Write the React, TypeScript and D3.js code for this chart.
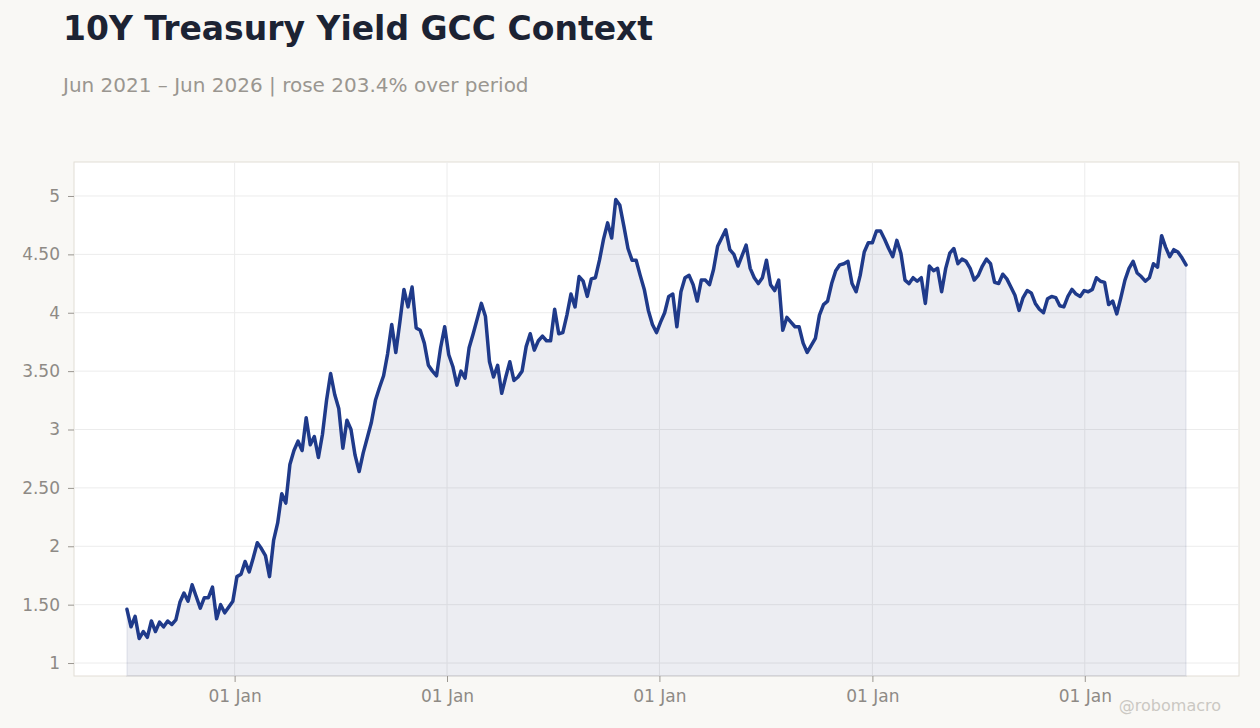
import React, { useEffect, useRef } from "react";
import * as d3 from "d3";

// weekly observations, first one on 30 Jun 2021
const startDate = "2021-06-30";
const stepDays = 7;

const yields: number[] = [
  1.46, 1.31, 1.40, 1.21, 1.27, 1.22, 1.36, 1.27, 1.35, 1.31,
  1.36, 1.33, 1.37, 1.52, 1.60, 1.53, 1.67, 1.57, 1.47, 1.56,
  1.56, 1.65, 1.38, 1.50, 1.43, 1.48, 1.53, 1.74, 1.76, 1.87,
  1.78, 1.90, 2.03, 1.98, 1.92, 1.74, 2.05, 2.20, 2.45, 2.37,
  2.70, 2.82, 2.90, 2.82, 3.10, 2.87, 2.94, 2.76, 2.96, 3.25,
  3.48, 3.30, 3.18, 2.84, 3.08, 3.00, 2.78, 2.64, 2.80, 2.93,
  3.06, 3.25, 3.36, 3.46, 3.65, 3.90, 3.66, 3.92, 4.20, 4.05,
  4.22, 3.87, 3.85, 3.74, 3.55, 3.50, 3.46, 3.70, 3.88, 3.64,
  3.54, 3.38, 3.50, 3.44, 3.70, 3.82, 3.95, 4.08, 3.97, 3.58,
  3.45, 3.55, 3.31, 3.45, 3.58, 3.42, 3.45, 3.50, 3.71, 3.82,
  3.68, 3.76, 3.80, 3.76, 3.76, 4.03, 3.82, 3.83, 3.98, 4.16,
  4.05, 4.31, 4.27, 4.14, 4.29, 4.30, 4.45, 4.63, 4.77, 4.64,
  4.97, 4.92, 4.74, 4.55, 4.45, 4.45, 4.32, 4.20, 4.02, 3.90,
  3.83, 3.92, 4.00, 4.14, 4.16, 3.88, 4.18, 4.30, 4.32, 4.24,
  4.10, 4.28, 4.28, 4.24, 4.37, 4.57, 4.64, 4.71, 4.54, 4.50,
  4.40, 4.49, 4.58, 4.38, 4.30, 4.25, 4.30, 4.45, 4.24, 4.19,
  4.28, 3.85, 3.96, 3.92, 3.88, 3.88, 3.74, 3.66, 3.72, 3.78,
  3.98, 4.07, 4.10, 4.25, 4.36, 4.41, 4.42, 4.44, 4.25, 4.18,
  4.32, 4.52, 4.60, 4.60, 4.70, 4.70, 4.63, 4.55, 4.48, 4.62,
  4.51, 4.28, 4.25, 4.30, 4.27, 4.30, 4.08, 4.40, 4.36, 4.38,
  4.18, 4.38, 4.51, 4.55, 4.42, 4.46, 4.44, 4.38, 4.28, 4.32,
  4.40, 4.46, 4.42, 4.26, 4.25, 4.33, 4.29, 4.22, 4.15, 4.02,
  4.13, 4.19, 4.17, 4.08, 4.03, 4.00, 4.12, 4.14, 4.13, 4.06,
  4.05, 4.14, 4.20, 4.16, 4.14, 4.19, 4.18, 4.20, 4.30, 4.27,
  4.26, 4.07, 4.10, 3.99, 4.13, 4.28, 4.38, 4.44, 4.34, 4.31,
  4.27, 4.30, 4.42, 4.39, 4.66, 4.56, 4.48, 4.54, 4.52, 4.47,
  4.41,
];

const yTicks = [1, 1.5, 2, 2.5, 3, 3.5, 4, 4.5, 5];
const xTickDates = ["2022-01-01", "2023-01-01", "2024-01-01", "2025-01-01", "2026-01-01"];

const title = "10Y Treasury Yield GCC Context";
const subtitle = "Jun 2021 – Jun 2026 | rose 203.4% over period";
const credit = "@robomacro";

const W = 1260,
  H = 728;
const margin = { top: 162, right: 21, bottom: 52, left: 74 };
const FONT = "'DejaVu Sans', Verdana, sans-serif";

interface IPoint {
  date: Date;
  value: number;
}

export default function App(): JSX.Element {
  const svgRef = useRef<SVGSVGElement>(null);

  useEffect(() => {
    if (!svgRef.current) return;
    const root = d3.select(svgRef.current);
    root.selectAll("*").remove();

    const parse = d3.utcParse("%Y-%m-%d");
    const t0 = parse(startDate) as Date;
    const data: IPoint[] = yields.map((v, i) => ({
      date: d3.utcDay.offset(t0, i * stepDays),
      value: v,
    }));

    const innerW = W - margin.left - margin.right;
    const innerH = H - margin.top - margin.bottom;

    const [d0, d1] = d3.extent(data, (d) => d.date) as [Date, Date];
    const pad = (+d1 - +d0) * 0.05;
    const x = d3
      .scaleUtc()
      .domain([new Date(+d0 - pad), new Date(+d1 + pad)])
      .range([0, innerW]);
    const y = d3.scaleLinear().domain([0.889, 5.291]).range([innerH, 0]);

    root
      .append("rect")
      .attr("width", W)
      .attr("height", H)
      .attr("fill", "#f9f8f5");

    root
      .append("text")
      .attr("x", 63)
      .attr("y", 40)
      .attr("font-family", FONT)
      .attr("font-weight", "bold")
      .attr("font-size", 33)
      .attr("fill", "#1c2333")
      .text(title);

    root
      .append("text")
      .attr("x", 63)
      .attr("y", 92)
      .attr("font-family", FONT)
      .attr("font-size", 20)
      .attr("fill", "#9a9690")
      .text(subtitle);

    const g = root
      .append("g")
      .attr("transform", "translate(" + margin.left + "," + margin.top + ")");

    g.append("rect")
      .attr("width", innerW)
      .attr("height", innerH)
      .attr("fill", "#ffffff")
      .attr("stroke", "#e2ddd6")
      .attr("stroke-width", 1);

    // grid
    g.selectAll(".hgrid")
      .data(yTicks)
      .enter()
      .append("line")
      .attr("x1", 0)
      .attr("x2", innerW)
      .attr("y1", (d) => y(d))
      .attr("y2", (d) => y(d))
      .attr("stroke", "#ececec");

    const xTicks = xTickDates.map((s) => parse(s) as Date);
    g.selectAll(".vgrid")
      .data(xTicks)
      .enter()
      .append("line")
      .attr("x1", (d) => x(d))
      .attr("x2", (d) => x(d))
      .attr("y1", 0)
      .attr("y2", innerH)
      .attr("stroke", "#ececec");

    // area + line
    const area = d3
      .area<IPoint>()
      .x((d) => x(d.date))
      .y0(innerH)
      .y1((d) => y(d.value));
    g.append("path")
      .datum(data)
      .attr("d", area)
      .attr("fill", "#2a3470")
      .attr("fill-opacity", 0.09)
      .attr("stroke", "#2a3470")
      .attr("stroke-opacity", 0.06)
      .attr("stroke-width", 2);

    const line = d3
      .line<IPoint>()
      .x((d) => x(d.date))
      .y((d) => y(d.value));
    g.append("path")
      .datum(data)
      .attr("d", line)
      .attr("fill", "none")
      .attr("stroke", "#1f3a8a")
      .attr("stroke-width", 3.5)
      .attr("stroke-linejoin", "round")
      .attr("stroke-linecap", "round");

    // axes
    const fmtY = (v: number) => (Number.isInteger(v) ? String(v) : v.toFixed(2));
    const yAxis = g
      .append("g")
      .call(
        d3
          .axisLeft(y)
          .tickValues(yTicks)
          .tickSize(6)
          .tickPadding(8)
          .tickFormat((d) => fmtY(+d))
      );
    const xAxis = g
      .append("g")
      .attr("transform", "translate(0," + innerH + ")")
      .call(
        d3
          .axisBottom(x)
          .tickValues(xTicks)
          .tickSize(6)
          .tickPadding(8)
          .tickFormat((d) => d3.utcFormat("%d %b")(d as Date))
      );

    [yAxis, xAxis].forEach((a) => {
      a.select(".domain").remove();
      a.selectAll("line").attr("stroke", "#9a9690");
      a.selectAll("text")
        .attr("font-family", FONT)
        .attr("font-size", 17)
        .attr("fill", "#8e8a85");
    });

    root
      .append("text")
      .attr("x", 1221)
      .attr("y", 711)
      .attr("text-anchor", "end")
      .attr("font-family", FONT)
      .attr("font-size", 16)
      .attr("fill", "#cbc8c3")
      .text(credit);
  }, []);

  return (
    <div style={{ position: "fixed", left: 0, top: 0, width: W, height: H }}>
      <svg ref={svgRef} width={W} height={H} style={{ display: "block" }}></svg>
    </div>
  );
}
